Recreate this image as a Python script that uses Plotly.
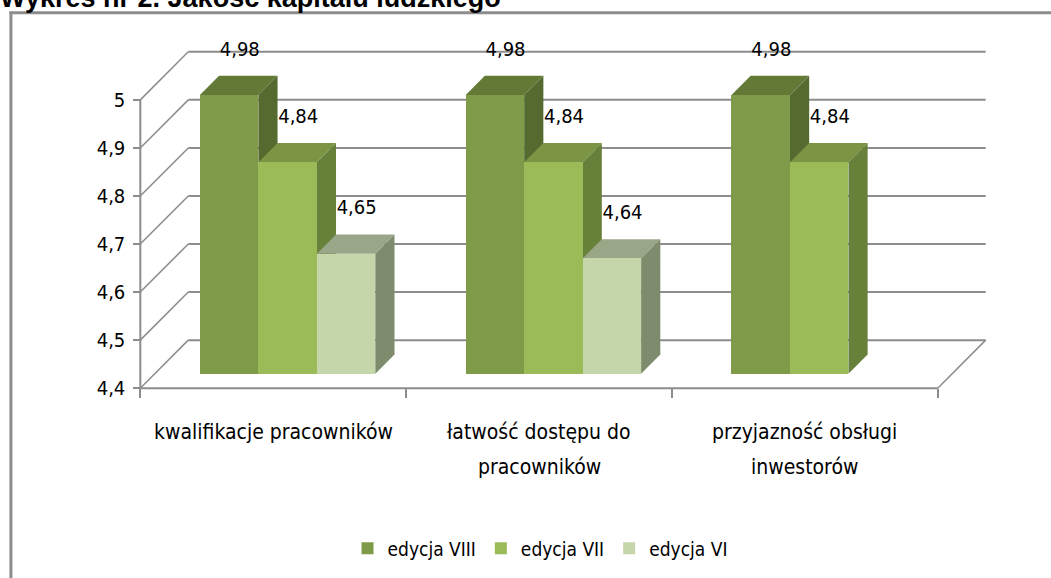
import plotly.graph_objects as go

# ---------------- data ----------------
categories = ["kwalifikacje pracowników",
              "łatwość dostępu do<br>pracowników",
              "przyjazność obsługi<br>inwestorów"]
series_names = ["edycja VIII", "edycja VII", "edycja VI"]
edycja_viii = [4.98, 4.98, 4.98]
edycja_vii = [4.84, 4.84, 4.84]
edycja_vi = [4.65, 4.64, None]
y_ticks = [4.4, 4.5, 4.6, 4.7, 4.8, 4.9, 5.0]
y_tick_labels = ["4,4", "4,5", "4,6", "4,7", "4,8", "4,9", "5"]
title_text = "Wykres nr 2. Jakość kapitału ludzkiego"

# ---------------- style ----------------
front_colors = ["#7F9A48", "#9BBB59", "#C6D6AB"]
top_colors = ["#637A37", "#7B9545", "#9AA688"]
side_colors = ["#546A2F", "#67803A", "#7F8B6D"]
GRID = "#8C8C8C"
FONT = "DejaVu Sans Condensed, Liberation Sans Narrow, sans-serif"

W, H = 1051, 578
SX, SY = 266.0, 480.0          # px per category / per value unit
ORX, ORY = 140.0, 388.0        # pixel of (x=-0.5, y=4.4)
DX, DY = 48.0 / SX, 0.1        # depth offset of the back wall
BAR_W, BAR_Z, BAR_D = 0.22, 0.3, 0.4
YMIN = y_ticks[0]

X0, X1 = -0.52, len(categories) - 0.5 + DX + 0.02
Y0, Y1 = YMIN - 0.01, y_ticks[-1] + DY + 0.01

def px_x(x):
    return ORX + (x + 0.5) * SX

def px_y(y):
    return ORY - (y - YMIN) * SY

ml, mr = px_x(X0), W - px_x(X1)
mt, mb = px_y(Y1), H - px_y(Y0)
pw, ph = W - ml - mr, H - mt - mb

def paper_x(p):
    return (p - ml) / pw

def paper_y(p):
    return (H - mb - p) / ph

series = [edycja_viii, edycja_vii, edycja_vi]

fig = go.Figure()
shapes = []

def line(x0, y0, x1, y1, w=2, color=GRID):
    shapes.append(dict(type="line", xref="x", yref="y", x0=x0, y0=y0, x1=x1, y1=y1,
                       line=dict(color=color, width=w), layer="below"))

right = len(categories) - 0.5
for v in y_ticks:
    line(-0.5 + DX, v + DY, right + DX, v + DY)
    line(-0.5, v, -0.5 + DX, v + DY, w=1.5)
line(right, YMIN, right + DX, YMIN + DY, w=1.5)
line(-0.5, YMIN, right, YMIN)
line(-0.5, YMIN, -0.5, y_ticks[-1])

base = YMIN + BAR_Z * DY
for i in range(len(categories)):
    for j, vals in enumerate(series):
        v = vals[i]
        if v is None:
            continue
        xc = i + BAR_Z * DX + (j - 1) * BAR_W
        x0, x1 = xc - BAR_W / 2, xc + BAR_W / 2
        t = v + BAR_Z * DY
        ddx, ddy = BAR_D * DX, BAR_D * DY
        shapes.append(dict(type="path", xref="x", yref="y", layer="below",
                           path=f"M{x0},{t} L{x1},{t} L{x1+ddx},{t+ddy} L{x0+ddx},{t+ddy} Z",
                           fillcolor=top_colors[j], line=dict(width=0)))
        shapes.append(dict(type="path", xref="x", yref="y", layer="below",
                           path=f"M{x1},{base} L{x1},{t} L{x1+ddx},{t+ddy} L{x1+ddx},{base+ddy} Z",
                           fillcolor=side_colors[j], line=dict(width=0)))

for j, (name, vals) in enumerate(zip(series_names, series)):
    xs = [i + BAR_Z * DX + (j - 1) * BAR_W for i in range(len(categories))]
    fig.add_trace(go.Bar(
        x=xs, y=[None if v is None else v - YMIN for v in vals], base=base,
        width=BAR_W, name=name, marker=dict(color=front_colors[j], line=dict(width=0)),
        hovertemplate=name + ": %{customdata}<extra></extra>", customdata=vals))

for j, (name, vals) in enumerate(zip(series_names, series)):
    xs, ys, ts = [], [], []
    for i, v in enumerate(vals):
        if v is None:
            continue
        xs.append(i + BAR_Z * DX + (j - 1) * BAR_W + 0.04)
        ys.append(v + BAR_Z * DY + BAR_D * DY + 0.052)
        ts.append(f"{v:.2f}".replace(".", ","))
    fig.add_trace(go.Scatter(x=xs, y=ys, text=ts, mode="text", showlegend=False,
                             cliponaxis=False, hoverinfo="skip",
                             textfont=dict(family=FONT, size=20, color="#000000")))

annotations = []
for i, cat in enumerate(categories):
    for k, part in enumerate(cat.split("<br>")):
        annotations.append(dict(text=part, xref="x", yref="paper", x=i, y=paper_y(432 + 35 * k),
                                showarrow=False, xanchor="center", yanchor="middle",
                                font=dict(family=FONT, size=21, color="#000000")))
annotations.append(dict(text="<b>" + title_text + "</b>", xref="paper", yref="paper",
                        x=paper_x(-2), y=paper_y(-2), xanchor="left", yanchor="middle",
                        showarrow=False,
                        font=dict(family="Liberation Sans, Arial, sans-serif", size=27, color="#000000")))

# frame
shapes.append(dict(type="line", xref="paper", yref="paper", x0=paper_x(10.5), x1=paper_x(10.5),
                   y0=paper_y(12), y1=paper_y(H + 5), line=dict(color="#8C8C8C", width=3)))
shapes.append(dict(type="line", xref="paper", yref="paper", x0=paper_x(9), x1=paper_x(W + 5),
                   y0=paper_y(13), y1=paper_y(13), line=dict(color="#8C8C8C", width=3)))

fig.update_layout(
    width=W, height=H, margin=dict(l=ml, r=mr, t=mt, b=mb, pad=0, autoexpand=False),
    paper_bgcolor="white", plot_bgcolor="rgba(0,0,0,0)",
    barmode="overlay", bargap=0,
    shapes=shapes, annotations=annotations,
    font=dict(family=FONT, size=20, color="#000000"),
    xaxis=dict(range=[X0, X1], showgrid=False, zeroline=False, showline=False, automargin=False,
               tickvals=[k - 0.5 for k in range(len(categories) + 1)], showticklabels=False,
               ticks="outside", ticklen=9, tickwidth=1.5, tickcolor=GRID,
               anchor="free", position=(YMIN - Y0) / (Y1 - Y0), fixedrange=True),
    yaxis=dict(range=[Y0, Y1], showgrid=False, zeroline=False, showline=False, automargin=False,
               tickvals=y_ticks, ticktext=y_tick_labels, ticks="outside", ticklen=7,
               tickwidth=1.5, tickcolor=GRID, ticklabelstandoff=4,
               anchor="free", position=(-0.5 - X0) / (X1 - X0), fixedrange=True,
               tickfont=dict(family=FONT, size=20, color="#000000")),
    legend=dict(orientation="h", x=paper_x(540), y=paper_y(548), xanchor="center", yanchor="middle",
                font=dict(family=FONT, size=19, color="#000000"), bgcolor="rgba(0,0,0,0)",
                itemclick=False, itemdoubleclick=False),
    showlegend=True,
)

fig.write_html("out.html", config={"displayModeBar": False},
               post_script="document.body.style.margin='0px';document.body.style.overflow='hidden';")
